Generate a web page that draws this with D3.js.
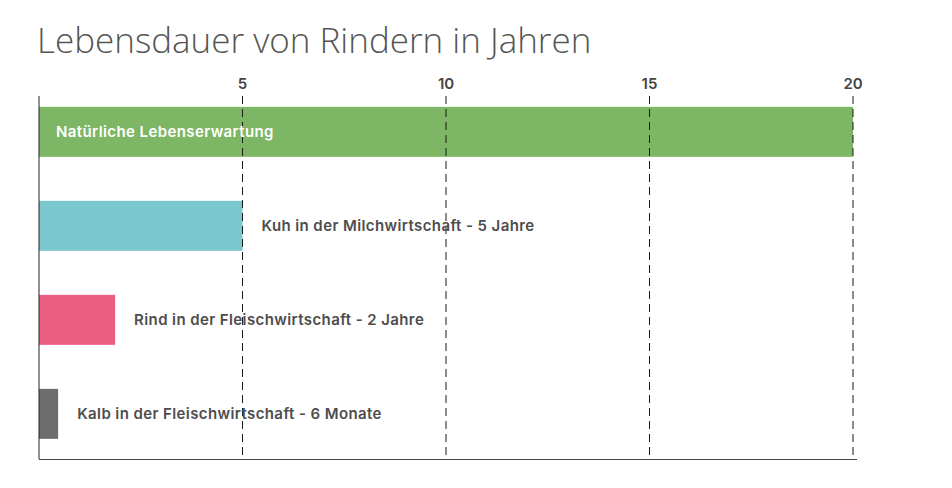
<!DOCTYPE html>
<html>
<head>
<meta charset="utf-8">
<script src="https://cdn.jsdelivr.net/npm/d3@7"></script>
<style>
  body { margin: 0; background: #fff; }
  svg { display: block; }
</style>
</head>
<body>
<svg id="chart" width="952" height="488"></svg>
<script>
const categories = ['natur', 'kuh', 'rind', 'kalb']
const labels = [
  'Natürliche Lebenserwartung',
  'Kuh in der Milchwirtschaft - 5 Jahre',
  'Rind in der Fleischwirtschaft - 2 Jahre',
  'Kalb in der Fleischwirtschaft - 6 Monate'
]
const values = [20, 5, 1.87, 0.47]
const colors = ['#7db665', '#7ac7ce', '#eb5f82', '#6e6d6b']
const ticks = [5, 10, 15, 20]

const plotLeft = 39
const plotRight = 853
const plotTop = 96
const plotBottom = 459

const svg = d3.select('#chart')

svg.append('text')
  .attr('x', 37)
  .attr('y', 53)
  .style('font-family', 'Open Sans, sans-serif')
  .style('font-weight', 300)
  .style('font-size', '35px')
  .style('fill', '#555')
  .text('Lebensdauer von Rindern in Jahren')

const x = d3.scaleLinear().domain([0, 20]).range([plotLeft, plotRight])
const y = d3.scaleBand()
  .domain(categories)
  .range([plotTop, plotBottom])
  .paddingInner(0.468)
  .paddingOuter(0.165)
  .align(0.35)

const data = categories.map((c, i) => ({ key: c, label: labels[i], value: values[i], color: colors[i] }))

// bars
svg.append('g')
  .selectAll('rect')
  .data(data)
  .enter()
  .append('rect')
  .attr('x', x(0))
  .attr('y', d => y(d.key))
  .attr('width', d => x(d.value) - x(0))
  .attr('height', y.bandwidth())
  .style('fill', d => d.color)

// dashed grid
svg.append('g')
  .selectAll('line')
  .data(ticks)
  .enter()
  .append('line')
  .attr('x1', d => x(d))
  .attr('x2', d => x(d))
  .attr('y1', plotTop)
  .attr('y2', plotBottom + 1)
  .style('stroke', '#1a1a1a')
  .style('stroke-width', 1)
  .style('stroke-dasharray', '8,5')

// top tick labels
svg.append('g')
  .selectAll('text')
  .data(ticks)
  .enter()
  .append('text')
  .attr('x', d => x(d))
  .attr('y', 89)
  .attr('text-anchor', 'middle')
  .style('font-family', 'Inter, sans-serif')
  .style('font-weight', 600)
  .style('font-size', '15px')
  .style('fill', '#444')
  .text(d => d)

// axis lines
svg.append('line')
  .attr('x1', plotLeft).attr('x2', plotLeft)
  .attr('y1', plotTop).attr('y2', plotBottom)
  .style('stroke', '#222')
svg.append('line')
  .attr('x1', plotLeft).attr('x2', plotRight + 4)
  .attr('y1', plotBottom + 0.5).attr('y2', plotBottom + 0.5)
  .style('stroke', '#444')

// bar labels
svg.append('g')
  .selectAll('text')
  .data(data)
  .enter()
  .append('text')
  .attr('x', d => d.value >= 20 ? x(0) + 17 : x(d.value) + 19)
  .attr('y', d => y(d.key) + y.bandwidth() / 2)
  .attr('dy', '0.35em')
  .style('font-family', 'Inter, sans-serif')
  .style('font-weight', 600)
  .style('font-size', '15px')
  .style('letter-spacing', '0.4px')
  .style('fill', d => d.value >= 20 ? '#fff' : '#4d4d4d')
  .text(d => d.label)
</script>
</body>
</html>
